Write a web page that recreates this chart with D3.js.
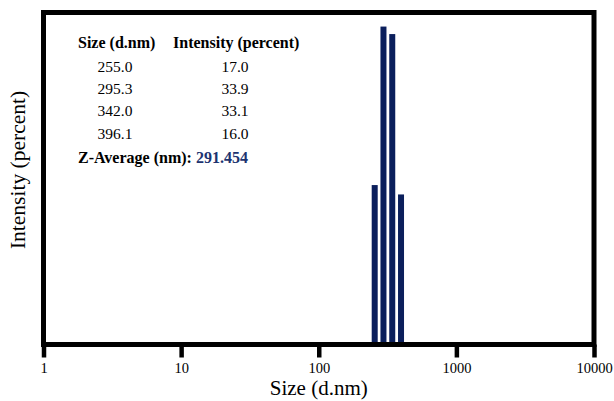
<!DOCTYPE html>
<html>
<head>
<meta charset="utf-8">
<script src="https://cdn.jsdelivr.net/npm/d3@7"></script>
<style>
  body { margin: 0; background: #fff; }
  text { font-family: "Liberation Serif", "Times New Roman", serif; }
</style>
</head>
<body>
<svg id="chart"></svg>
<script>
// data
const sizes = [255.0, 295.3, 342.0, 396.1];
const intensities = [17.0, 33.9, 33.1, 16.0];
const sizeLabels = ["255.0", "295.3", "342.0", "396.1"];
const intensityLabels = ["17.0", "33.9", "33.1", "16.0"];
const xTicks = [1, 10, 100, 1000, 10000];
const zAverage = "291.454";

const width = 614, height = 401;
const margin = { top: 12.5, right: 20, bottom: 56.5, left: 43.5 };
const innerW = width - margin.left - margin.right;
const innerH = height - margin.top - margin.bottom;

const svg = d3.select("#chart")
    .attr("width", width)
    .attr("height", height);

const g = svg.append("g")
    .attr("transform", `translate(${margin.left}, ${margin.top})`);

const x = d3.scaleLog().domain([1, 10000]).range([0, innerW]);
const y = d3.scaleLinear().domain([0, 35.4]).range([innerH, 0]);

// bars
g.selectAll("rect.bar")
    .data(sizes)
    .join("rect")
    .attr("class", "bar")
    .attr("x", d => x(d) - 3)
    .attr("y", (d, i) => y(intensities[i]))
    .attr("width", 6)
    .attr("height", (d, i) => innerH - y(intensities[i]))
    .attr("fill", "#0b1f5c");

// frame
g.append("rect")
    .attr("width", innerW)
    .attr("height", innerH)
    .attr("fill", "none")
    .attr("stroke", "#000")
    .attr("stroke-width", 5);

// x axis
const xAxis = g.append("g")
    .attr("transform", `translate(0, ${innerH})`)
    .call(d3.axisBottom(x).tickValues(xTicks).tickFormat(d3.format("d")).tickSize(13).tickPadding(5));
xAxis.select(".domain").remove();
xAxis.selectAll(".tick line").attr("stroke", "#000").attr("stroke-width", 4.5);
xAxis.selectAll(".tick text")
    .attr("fill", "#000")
    .style("font-family", "Liberation Serif, serif")
    .style("font-size", "14.5px");

// axis titles
svg.append("text")
    .attr("x", margin.left + innerW / 2)
    .attr("y", 395)
    .attr("text-anchor", "middle")
    .style("font-size", "21px")
    .text("Size (d.nm)");

svg.append("text")
    .attr("transform", "translate(25, 170) rotate(-90)")
    .attr("text-anchor", "middle")
    .style("font-size", "21.5px")
    .text("Intensity (percent)");

// peak table
const table = svg.append("g");
table.append("text")
    .attr("x", 78).attr("y", 47.5)
    .style("font-size", "16px").style("font-weight", "bold")
    .text("Size (d.nm)");
table.append("text")
    .attr("x", 173).attr("y", 47.5)
    .style("font-size", "16px").style("font-weight", "bold")
    .text("Intensity (percent)");

table.selectAll("text.size")
    .data(sizeLabels)
    .join("text")
    .attr("class", "size")
    .attr("x", 115)
    .attr("y", (d, i) => 72 + i * 22.2)
    .attr("text-anchor", "middle")
    .style("font-size", "15.5px")
    .text(d => d);

table.selectAll("text.int")
    .data(intensityLabels)
    .join("text")
    .attr("class", "int")
    .attr("x", 235)
    .attr("y", (d, i) => 72 + i * 22.2)
    .attr("text-anchor", "middle")
    .style("font-size", "15.5px")
    .text(d => d);

const z = table.append("text")
    .attr("x", 78).attr("y", 163)
    .style("font-size", "16px").style("font-weight", "bold");
z.append("tspan").text("Z-Average (nm): ");
z.append("tspan").attr("fill", "#1c3370").text(zAverage);
</script>
</body>
</html>
